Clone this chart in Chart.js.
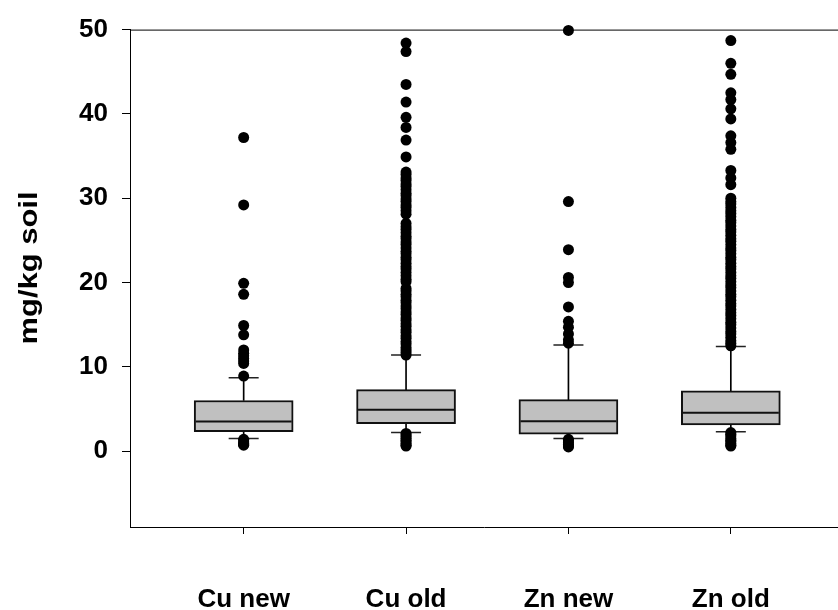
<!DOCTYPE html>
<html>
<head>
<meta charset="utf-8">
<script src="https://cdn.jsdelivr.net/npm/chart.js@4.4.1/dist/chart.umd.min.js"></script>
<style>
  html, body { margin: 0; padding: 0; background: #fff; }
  #wrap { width: 838px; height: 610px; }
</style>
</head>
<body>
<div id="wrap"><canvas id="box"></canvas></div>
<script>
// Box plot of soil Cu / Zn, drawn with floating bars + scatter points

var categories = ['Cu new', 'Cu old', 'Zn new', 'Zn old'];
var yTitle = 'mg/kg soil';
var yTicks = [0, 10, 20, 30, 40, 50];

// box stats per category (5th pct, q1, median, q3, 95th pct)
var whiskerLow = [1.5, 2.2, 1.5, 2.3];
var q1 = [2.3, 3.25, 2.0, 3.1];
var median = [3.5, 4.9, 3.55, 4.55];
var q3 = [6.0, 7.3, 6.1, 7.15];
var whiskerHigh = [8.7, 11.4, 12.6, 12.4];

// outliers
var cuNewOut = [37.2, 29.2, 19.9, 18.6, 14.9, 13.8, 12.0, 11.6, 11.3, 11.0, 10.7, 10.4, 8.9,
  1.4, 1.2, 1.0, 0.9, 0.8, 0.7];
var cuOldOut = [48.4, 47.4, 43.5, 41.4, 39.6, 38.4, 36.9, 34.9, 33.1, 32.8, 32.4, 32.1, 31.7, 31.4,
  31.0, 30.6, 30.3, 29.9, 29.6, 29.2, 28.9, 28.5, 28.1, 27.0, 26.6, 26.3, 25.9, 25.5, 25.2, 24.8,
  24.5, 24.1, 23.7, 23.4, 23.0, 22.7, 22.3, 21.9, 21.6, 21.2, 20.8, 20.4, 20.1, 19.3, 19.0, 18.6,
  18.3, 17.9, 17.6, 17.2, 16.9, 16.5, 16.2, 15.8, 15.5, 15.1, 14.8, 14.4, 14.1, 13.7, 13.4, 13.0,
  12.7, 12.3, 12.0, 11.7, 11.4,
  2.1, 1.9, 1.7, 1.5, 1.3, 1.1, 0.9, 0.7, 0.6];
var znNewOut = [49.9, 29.6, 23.9, 20.6, 20.0, 17.1, 15.4, 14.7, 13.9, 13.2, 12.8,
  1.4, 1.2, 1.0, 0.8, 0.6, 0.5];
var znOldOut = [48.7, 46.0, 44.7, 42.5, 41.7, 40.6, 39.4, 37.4, 36.6, 35.8, 33.3, 32.4, 31.6,
  30.0, 29.6, 29.3, 28.9, 28.5, 28.2, 27.8, 27.4, 27.1, 26.7, 26.3, 26.0, 25.6, 25.2, 24.9, 24.5,
  24.1, 23.8, 23.4, 23.0, 22.7, 22.3, 21.9, 21.6, 21.2, 20.8, 20.5, 20.1, 19.7, 19.4, 19.0, 18.6,
  18.3, 17.9, 17.5, 17.2, 16.8, 16.4, 16.1, 15.7, 15.3, 15.0, 14.6, 14.2, 13.9, 13.5, 13.1, 12.8,
  12.5,
  2.2, 2.0, 1.8, 1.5, 1.3, 1.1, 0.9, 0.7, 0.6];

var FONT = "'Liberation Sans', Arial, sans-serif";

var outlierLists = [cuNewOut, cuOldOut, znNewOut, znOldOut];
var outlierPoints = [];
outlierLists.forEach(function(list, i) {
  list.forEach(function(v) { outlierPoints.push({ x: i + 1, y: v }); });
});

function perCat(fn) {
  return categories.map(function(_, i) { return fn(i); });
}

var frameTopPlugin = {
  id: 'frameTop',
  beforeDatasetsDraw: function(chart) {
    var ctx = chart.ctx, a = chart.chartArea;
    ctx.save();
    ctx.strokeStyle = '#000';
    ctx.lineWidth = 1;
    ctx.beginPath();
    ctx.moveTo(a.left, a.top + 0.5);
    ctx.lineTo(a.right, a.top + 0.5);
    ctx.stroke();
    ctx.restore();
  }
};

var yTitlePlugin = {
  id: 'yTitle',
  afterDraw: function(chart) {
    var ctx = chart.ctx;
    ctx.save();
    ctx.font = 'bold 25px ' + FONT;
    ctx.fillStyle = '#000';
    ctx.translate(37, 268);
    ctx.rotate(-Math.PI / 2);
    var w = ctx.measureText(yTitle).width;
    ctx.scale(153 / w, 1);
    ctx.textAlign = 'center';
    ctx.textBaseline = 'alphabetic';
    ctx.fillText(yTitle, 0, 0);
    ctx.restore();
  }
};

var cfg = {
  type: 'scatter',
  data: {
    datasets: [
      {
        label: 'outliers',
        type: 'scatter',
        order: 0,
        data: outlierPoints,
        pointRadius: 5.5,
        pointBackgroundColor: '#000',
        pointBorderWidth: 0,
        clip: false
      },
      {
        label: 'median',
        type: 'scatter',
        order: 1,
        data: perCat(function(i) { return { x: i + 1, y: median[i] }; }),
        pointStyle: 'line',
        pointRadius: 48,
        pointBorderWidth: 2,
        pointBorderColor: '#111'
      },
      {
        label: 'caps',
        type: 'scatter',
        order: 2,
        data: perCat(function(i) { return { x: i + 1, y: whiskerHigh[i] }; })
          .concat(perCat(function(i) { return { x: i + 1, y: whiskerLow[i] }; })),
        pointStyle: 'line',
        pointRadius: 15,
        pointBorderWidth: 1.5,
        pointBorderColor: '#222'
      },
      {
        label: 'box',
        type: 'bar',
        order: 3,
        grouped: false,
        data: perCat(function(i) { return { x: i + 1, y: [q1[i], q3[i]] }; }),
        barThickness: 99,
        backgroundColor: '#c0c0c0',
        borderColor: '#111',
        borderWidth: 2,
        borderSkipped: false
      },
      {
        label: 'whisker high',
        type: 'bar',
        order: 4,
        grouped: false,
        data: perCat(function(i) { return { x: i + 1, y: [q3[i], whiskerHigh[i]] }; }),
        barThickness: 1,
        backgroundColor: '#000',
        borderWidth: 0
      },
      {
        label: 'whisker low',
        type: 'bar',
        order: 4,
        grouped: false,
        data: perCat(function(i) { return { x: i + 1, y: [whiskerLow[i], q1[i]] }; }),
        barThickness: 1,
        backgroundColor: '#000',
        borderWidth: 0
      }
    ]
  },
  options: {
    responsive: true,
    maintainAspectRatio: false,
    animation: false,
    events: [],
    layout: { autoPadding: false, padding: { top: 24, right: 0, bottom: 0, left: 0 } },
    plugins: {
      legend: { display: false },
      tooltip: { enabled: false }
    },
    scales: {
      x: {
        type: 'linear',
        offset: false,
        min: 0.3,
        max: 4.66,
        afterBuildTicks: function(scale) {
          scale.ticks = categories.map(function(_, i) { return { value: i + 1 }; });
        },
        afterFit: function(scale) { scale.height = 83; },
        ticks: {
          autoSkip: false,
          maxRotation: 0,
          padding: 50,
          color: '#000',
          font: { family: FONT, size: 26, weight: 'bold' },
          callback: function(v) { return categories[v - 1]; }
        },
        grid: { offset: false, drawOnChartArea: false, drawTicks: true, tickLength: 7, color: '#000' },
        border: { display: true, color: '#000', width: 1 }
      },
      y: {
        min: -9,
        max: 50,
        afterBuildTicks: function(scale) {
          scale.ticks = yTicks.map(function(v) { return { value: v }; });
        },
        afterFit: function(scale) { scale.width = 130; },
        ticks: {
          padding: 14,
          color: '#000',
          font: { family: FONT, size: 26, weight: 'bold' }
        },
        grid: { drawOnChartArea: false, drawTicks: true, tickLength: 8, color: '#000' },
        border: { display: true, color: '#000', width: 1 }
      }
    }
  },
  plugins: [frameTopPlugin, yTitlePlugin]
};

new Chart(document.getElementById('box'), cfg);
</script>
</body>
</html>
